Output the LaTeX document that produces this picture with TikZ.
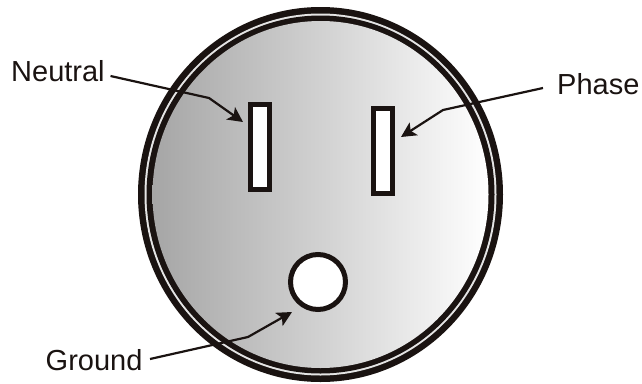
\documentclass[tikz,border=0pt]{standalone}
\usepackage{fontspec}
\setmainfont{Liberation Sans}
\usetikzlibrary{arrows.meta}
\definecolor{ink}{HTML}{1A1311}
\tikzset{
  lbl/.style={inner sep=0pt,anchor=base west,text=ink,font=\fontsize{29}{31}\selectfont},
  slot/.style={draw=ink,line width=5pt,fill=white,minimum width=19pt,minimum height=85pt,inner sep=0pt},
  hole/.style={circle,draw=ink,line width=5pt,fill=white,minimum size=55pt,inner sep=0pt},
  lead/.style={draw=ink,line width=2.2pt,-{Stealth[length=15pt,width=15pt,inset=3.5pt]}}
}
\begin{document}
\begin{tikzpicture}[x=1pt,y=-1pt]
\useasboundingbox (0,0) rectangle (642,383);
\coordinate (c) at (320.5,194.5);
\fill[ink] (c) ellipse[x radius=182.5,y radius=187.5];
\fill[white!90!black] (c) ellipse[x radius=176,y radius=181];
\fill[ink] (c) ellipse[x radius=174,y radius=179];
\shade[left color=black!35,right color=white,middle color=black!18] (c) ellipse[x radius=168,y radius=173.5];
\node[slot] (slotN) at (260,147) {};
\node[slot] (slotP) at (383,150.5) {};
\node[hole] (gnd) at (318,282) {};
\node[lbl] (neutral) at (11,81.5) {Neutral};
\node[lbl] (phase) at (557,94) {Phase};
\node[lbl] (ground) at (45.5,370) {Ground};
\coordinate (nStart) at (110.5,76);
\coordinate (nBend) at (209,98);
\coordinate (nTip) at (243,122);
\coordinate (pStart) at (543,88);
\coordinate (pBend) at (443,110);
\coordinate (pTip) at (401,137);
\coordinate (gStart) at (150,359);
\coordinate (gBend) at (248,337);
\coordinate (gTip) at (292,312);
\draw[lead] (nStart) -- (nBend) -- (nTip);
\draw[lead] (pStart) -- (pBend) -- (pTip);
\draw[lead] (gStart) -- (gBend) -- (gTip);
\end{tikzpicture}
\end{document}
